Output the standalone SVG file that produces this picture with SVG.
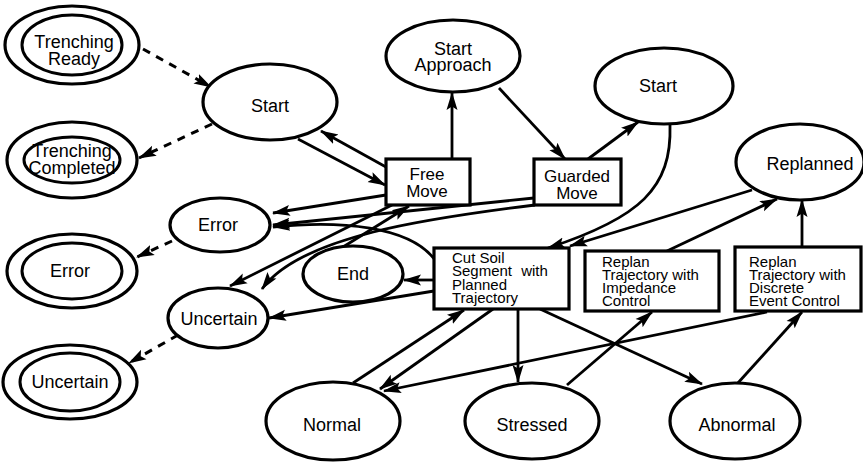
<svg xmlns="http://www.w3.org/2000/svg" width="863" height="462" viewBox="0 0 863 462">
  <defs>
    <marker id="arrow" markerUnits="userSpaceOnUse" markerWidth="20" markerHeight="14" refX="17" refY="6.5" orient="auto">
      <path d="M0,1 L18,6.5 L0,12 L3.5,6.5 z" fill="#000"/>
    </marker>
    <style>
      .node { fill: #fff; stroke: #000; stroke-width: 3.2; }
      .inner { fill: none; stroke: #000; stroke-width: 3; }
      .box { fill: #fff; stroke: #000; stroke-width: 3.2; }
      .edge { fill: none; stroke: #000; stroke-width: 2.8; marker-end: url(#arrow); }
      .dash { stroke-width: 3; stroke-dasharray: 8 7; }
      text { font-family: "Liberation Sans", Arial, sans-serif; fill: #000; }
      .lbl { font-size: 18px; text-anchor: middle; }
      .blbl { font-size: 17px; text-anchor: middle; }
      .small { font-size: 15px; }
    </style>
  </defs>

  <rect width="863" height="462" fill="#fff"/>

  <!-- transitions -->
  <g id="connectors">
    <!-- dashed links to the terminal states -->
    <path class="edge dash" d="M143,49 L211,87"/>
    <path class="edge dash" d="M212,124 L139,158"/>
    <path class="edge dash" d="M172,241 L137,257"/>
    <path class="edge dash" d="M178,335 L129,363"/>

    <!-- upper loop -->
    <path class="edge" d="M298,139 L385,185"/>
    <path class="edge" d="M386,167 L321,131"/>
    <path class="edge" d="M452,159 L452,93"/>
    <path class="edge" d="M499,88 L565,159"/>
    <path class="edge" d="M588,159 L638,122"/>
    <path class="edge" d="M670,125 C672,188 640,218 548,248"/>
    <path class="edge" d="M752,190 L570,246"/>

    <!-- error / uncertain branches -->
    <path class="edge" d="M386,195 L273,213"/>
    <path class="edge" d="M534,198 L273,225"/>
    <path class="edge" d="M435,260 C410,226 340,220 273,227"/>
    <path class="edge" d="M392,205 L230,286"/>
    <path class="edge" d="M535,205 C430,218 300,236 262,289"/>
    <path class="edge" d="M434,291 L269,318"/>
    <path class="edge" d="M343,247 L409,206"/>
    <path class="edge" d="M434,280 L404,280"/>

    <!-- lower section -->
    <path class="edge" d="M353,383 L464,310"/>
    <path class="edge" d="M493,309 L380,389"/>
    <path class="edge" d="M518,309 L518,382"/>
    <path class="edge" d="M540,309 L702,384"/>
    <path class="edge" d="M767,312 L384,391"/>
    <path class="edge" d="M567,385 L652,312"/>
    <path class="edge" d="M737,384 L802,312"/>
    <path class="edge" d="M802,247 L802,200"/>
    <path class="edge" d="M667,251 L777,199"/>
  </g>

  <!-- terminal states -->
  <g id="trenching-ready">
    <ellipse class="node" cx="72" cy="45" rx="67" ry="39"/>
    <ellipse class="inner" cx="72" cy="45" rx="50" ry="30"/>
    <text class="lbl" x="74" y="48">Trenching</text>
    <text class="lbl" x="74" y="65">Ready</text>
  </g>
  <g id="trenching-completed">
    <ellipse class="node" cx="72" cy="160" rx="65" ry="38"/>
    <ellipse class="inner" cx="72" cy="160" rx="48" ry="23"/>
    <text class="lbl" x="72" y="157">Trenching</text>
    <text class="lbl" x="72" y="174">Completed</text>
  </g>
  <g id="error-final">
    <ellipse class="node" cx="72" cy="271" rx="65" ry="37"/>
    <ellipse class="inner" cx="72" cy="271" rx="50" ry="28"/>
    <text class="lbl" x="70" y="277">Error</text>
  </g>
  <g id="uncertain-final">
    <ellipse class="node" cx="70" cy="382" rx="67" ry="37"/>
    <ellipse class="inner" cx="70" cy="382" rx="50" ry="29"/>
    <text class="lbl" x="70" y="388">Uncertain</text>
  </g>

  <!-- states -->
  <g id="start-left">
    <ellipse class="node" cx="270" cy="102" rx="67" ry="38"/>
    <text class="lbl" x="270" y="112">Start</text>
  </g>
  <g id="start-approach">
    <ellipse class="node" cx="453" cy="56" rx="67" ry="36"/>
    <text class="lbl" x="453" y="55">Start</text>
    <text class="lbl" x="453" y="71">Approach</text>
  </g>
  <g id="start-right">
    <ellipse class="node" cx="664" cy="86" rx="69" ry="38"/>
    <text class="lbl" x="658" y="92">Start</text>
  </g>
  <g id="replanned">
    <ellipse class="node" cx="800" cy="162" rx="64" ry="38"/>
    <text class="lbl" x="810" y="170">Replanned</text>
  </g>
  <g id="error">
    <ellipse class="node" cx="220" cy="225" rx="50" ry="27"/>
    <text class="lbl" x="218" y="231">Error</text>
  </g>
  <g id="uncertain">
    <ellipse class="node" cx="218" cy="318" rx="50" ry="30"/>
    <text class="lbl" x="219" y="325">Uncertain</text>
  </g>
  <g id="end">
    <ellipse class="node" cx="353" cy="274" rx="50" ry="28"/>
    <text class="lbl" x="353" y="280">End</text>
  </g>
  <g id="normal">
    <ellipse class="node" cx="333" cy="421" rx="67" ry="39"/>
    <text class="lbl" x="332" y="431">Normal</text>
  </g>
  <g id="stressed">
    <ellipse class="node" cx="532" cy="421" rx="67" ry="38"/>
    <text class="lbl" x="532" y="431">Stressed</text>
  </g>
  <g id="abnormal">
    <ellipse class="node" cx="735" cy="421" rx="65" ry="38"/>
    <text class="lbl" x="737" y="431">Abnormal</text>
  </g>

  <!-- activities -->
  <g id="free-move">
    <rect class="box" x="386" y="159" width="84" height="46"/>
    <text class="blbl" x="427" y="180">Free</text>
    <text class="blbl" x="427" y="197">Move</text>
  </g>
  <g id="guarded-move">
    <rect class="box" x="534" y="159" width="87" height="46"/>
    <text class="blbl" x="577" y="182">Guarded</text>
    <text class="blbl" x="577" y="199">Move</text>
  </g>
  <g id="cut-soil">
    <rect class="box" x="434" y="248" width="135" height="61"/>
    <text class="small" x="452" y="263">Cut Soil</text>
    <text class="small" x="452" y="276" word-spacing="5">Segment with</text>
    <text class="small" x="452" y="290">Planned</text>
    <text class="small" x="452" y="303">Trajectory</text>
  </g>
  <g id="replan-impedance">
    <rect class="box" x="585" y="251" width="134" height="60"/>
    <text class="small" x="602" y="267">Replan</text>
    <text class="small" x="602" y="280">Trajectory with</text>
    <text class="small" x="602" y="293">Impedance</text>
    <text class="small" x="602" y="306">Control</text>
  </g>
  <g id="replan-discrete">
    <rect class="box" x="735" y="247" width="126" height="64"/>
    <text class="small" x="749" y="267">Replan</text>
    <text class="small" x="749" y="280">Trajectory with</text>
    <text class="small" x="749" y="293">Discrete</text>
    <text class="small" x="749" y="306">Event Control</text>
  </g>
</svg>
